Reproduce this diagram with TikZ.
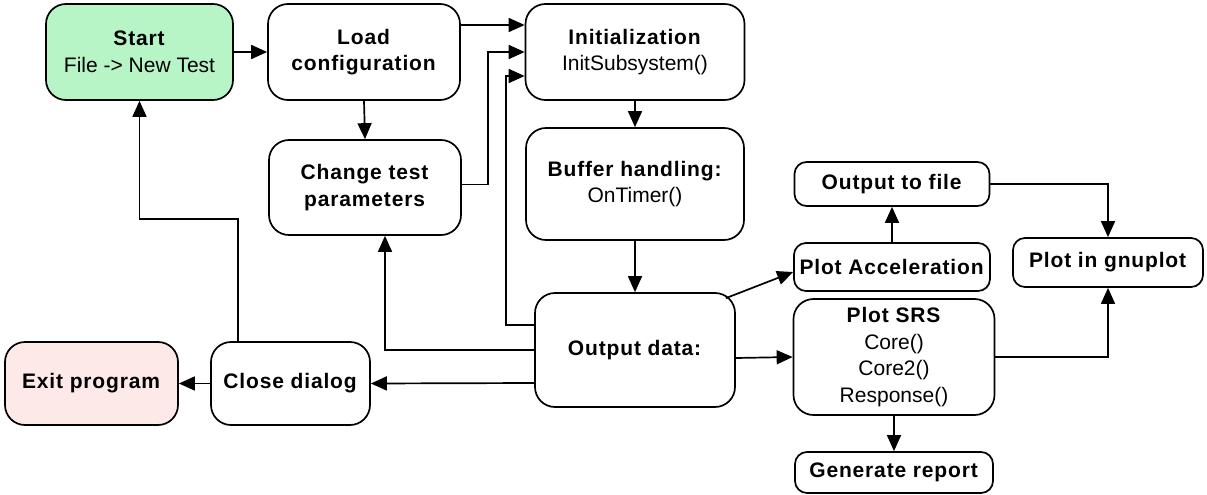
\documentclass[tikz,border=0pt]{standalone}
\usepackage{fontspec}
\setmainfont{Liberation Sans}[BoldFeatures={LetterSpace=4}]
\usetikzlibrary{arrows.meta}
\definecolor{startfill}{RGB}{183,245,199}
\definecolor{exitfill}{RGB}{254,233,233}
\begin{document}
\begin{tikzpicture}[x=1pt,y=-1pt,
  box/.style={draw, line width=1.7pt, rounded corners=20pt, align=center, inner sep=0pt,
    font=\fontsize{21}{26.5}\selectfont},
  sbox/.style={box, rounded corners=12pt},
  arr/.style={line width=1.7pt, -{Triangle[length=16pt,width=14pt]}}]
\useasboundingbox (0,0) rectangle (1207,495);
% nodes
\node[box, fill=startfill, minimum width=187pt, minimum height=96pt] (start) at (139.5,52) {\textbf{Start}\\File -> New Test};
\node[box, minimum width=192pt, minimum height=96pt] (load) at (364,52) {\textbf{Load}\\\textbf{configuration}};
\node[box, minimum width=192pt, minimum height=95pt] (change) at (365,187.5) {\textbf{Change test}\\\textbf{parameters}};
\node[box, minimum width=219pt, minimum height=96pt] (init) at (635,52) {\textbf{Initialization}\\InitSubsystem()};
\node[box, minimum width=218pt, minimum height=112pt] (buffer) at (635,184) {\textbf{Buffer handling:}\\OnTimer()};
\node[box, minimum width=200pt, minimum height=114pt] (output) at (635,350) {\textbf{Output data:}};
\node[box, fill=exitfill, minimum width=173pt, minimum height=83pt] (exit) at (91.5,383.5) {\textbf{Exit program}};
\node[box, minimum width=159pt, minimum height=83pt] (close) at (290.5,383.5) {\textbf{Close dialog}};
\node[sbox, minimum width=195pt, minimum height=44pt] (outfile) at (892,184) {\textbf{Output to file}};
\node[sbox, minimum width=196pt, minimum height=48pt] (plotacc) at (892,267) {\textbf{Plot Acceleration}};
\node[sbox, minimum width=190pt, minimum height=49pt] (gnuplot) at (1108,262.5) {\textbf{Plot in gnuplot}};
\node[box, minimum width=201pt, minimum height=116pt] (srs) at (894,357) {\textbf{Plot SRS}\\Core()\\Core2()\\Response()};
\node[sbox, minimum width=198pt, minimum height=41pt] (report) at (894,472.5) {\textbf{Generate report}};
% connectors
\draw[arr] (start.east) -- (load.west);
\draw[arr] (load.south) -- (change.north);
\draw[arr] ([yshift=27pt]load.east) -- ([yshift=27pt]init.west);
\draw[arr] ([yshift=3pt]change.east) -- ++(26,0) |- (init.west);
\draw[arr] ([yshift=25pt]output.west) -- ++(-28,0) |- ([yshift=-24pt]init.west);
\draw[arr] (init.south) -- (buffer.north);
\draw[arr] (buffer.south) -- (output.north);
\draw[arr] (output.west) -| ([xshift=20pt]change.south);
\draw[arr] ([yshift=-33pt]output.west) -- (close.east);
\draw[arr] (close.west) -- (exit.east);
\draw[arr] ([xshift=-52.5pt]close.north) -- ++(0,-122) -| (start.south);
\draw[arr] ([shift={(-10pt,-6pt)}]output.north east) -- ([yshift=-5pt]plotacc.west);
\draw[arr] ([yshift=-8pt]output.east) -- (srs.west);
\draw[arr] (plotacc.north) -- (outfile.south);
\draw[arr] (outfile.east) -| (gnuplot.north);
\draw[arr] (srs.east) -| (gnuplot.south);
\draw[arr] (srs.south) -- (report.north);
\end{tikzpicture}
\end{document}
